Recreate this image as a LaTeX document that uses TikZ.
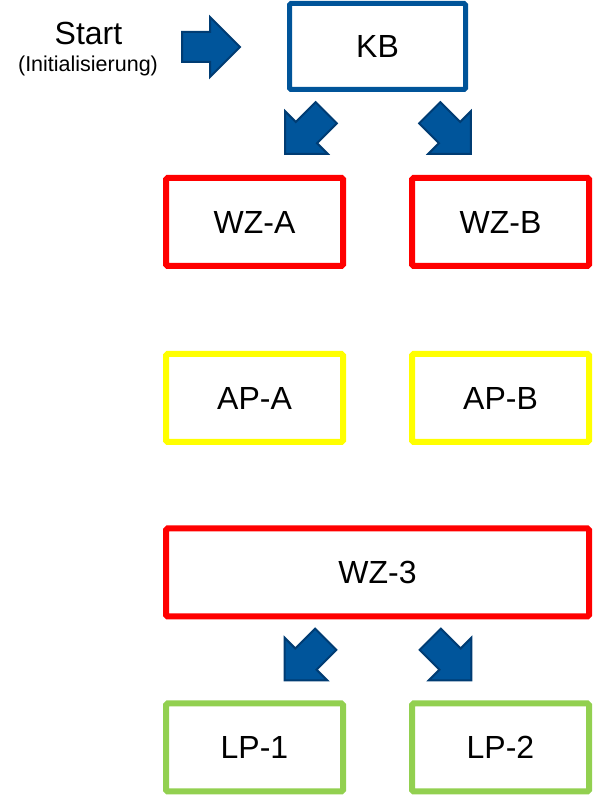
\documentclass[tikz,border=0pt]{standalone}
\usepackage{fontspec}
\setmainfont{Liberation Sans}
\definecolor{kbblue}{RGB}{0,84,153}
\definecolor{arrowfill}{RGB}{0,85,155}
\definecolor{arrowline}{RGB}{0,60,115}
\definecolor{boxred}{RGB}{255,0,0}
\definecolor{boxyellow}{RGB}{255,255,0}
\definecolor{boxgreen}{RGB}{146,208,80}
\tikzset{
  box/.style={draw, line width=6pt, rounded corners=1.5pt, minimum width=177pt, minimum height=88pt, inner sep=0pt, font=\fontsize{32}{38}\selectfont, text=black},
  redbox/.style={box, draw=boxred},
  yellowbox/.style={box, draw=boxyellow},
  greenbox/.style={box, draw=boxgreen},
  kbbox/.style={box, draw=kbblue, line width=5pt, minimum width=176pt, minimum height=86pt},
  arrowstyle/.style={fill=arrowfill, draw=arrowline, line width=2pt, line join=miter},
  blockarrow/.pic={\filldraw[arrowstyle] (-1,0) -- (-31,30) -- (-31,15) -- (-59,15) -- (-59,-15) -- (-31,-15) -- (-31,-30) -- cycle;}
}
\begin{document}
\begin{tikzpicture}[x=1pt,y=1pt]
\useasboundingbox (0,0) rectangle (593,796);
\node[anchor=base, font=\fontsize{32}{38}\selectfont] (start) at (88.5,751) {Start};
\node[anchor=base, font=\fontsize{21.5}{26}\selectfont] (init) at (88,724) {(Initialisierung)};
\node[kbbox] (kb) at (377.5,749.5) {KB};
\node[redbox] (wza) at (254.5,574) {WZ-A};
\node[redbox] (wzb) at (500.5,574) {WZ-B};
\node[yellowbox] (apa) at (254.5,398) {AP-A};
\node[yellowbox] (apb) at (500.5,398) {AP-B};
\node[redbox, minimum width=423pt] (wz3) at (377.5,223.5) {WZ-3};
\node[greenbox] (lp1) at (254.5,48.5) {LP-1};
\node[greenbox] (lp2) at (500.5,48.5) {LP-2};
\pic (arrstart) at (241,749) {blockarrow};
\pic[rotate=225] (arrkba) at (284.5,641.5) {blockarrow};
\pic[rotate=-45] (arrkbb) at (471.5,641.5) {blockarrow};
\pic[rotate=225] (arrlpa) at (284,115) {blockarrow};
\pic[rotate=-45] (arrlpb) at (472,115) {blockarrow};
\end{tikzpicture}
\end{document}
